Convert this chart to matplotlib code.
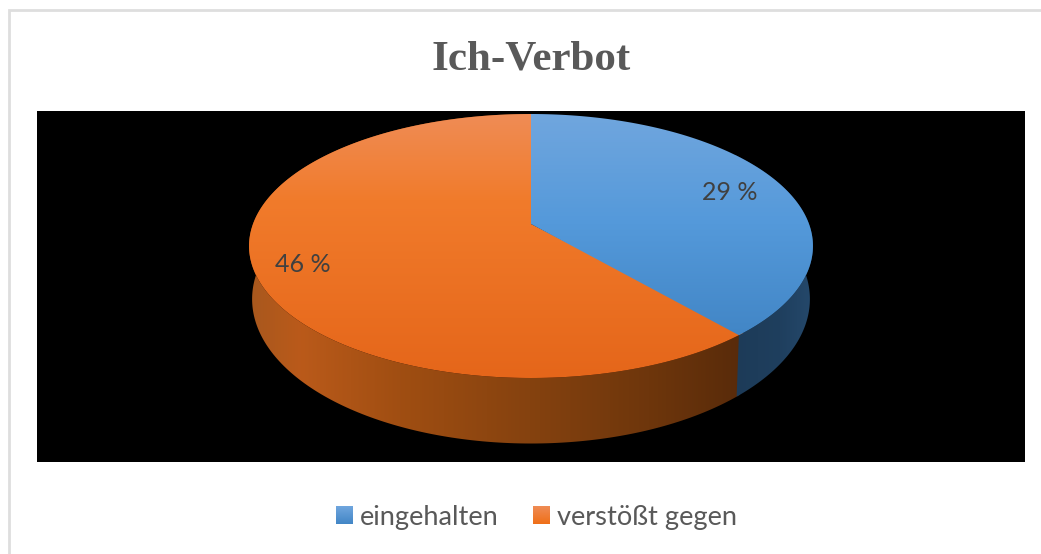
import numpy as np
import matplotlib
matplotlib.use("Agg")
import matplotlib.pyplot as plt
from matplotlib.colors import LinearSegmentedColormap as LSC
from matplotlib.patches import Patch, Polygon, Rectangle

categories = ["eingehalten", "verstößt gegen"]
values = [29, 46]
title = "Ich-Verbot"

W, H = 1041, 554
fig = plt.figure(figsize=(W / 100, H / 100), dpi=100, facecolor="white")
ax = fig.add_axes([0, 0, 1, 1])
ax.set_xlim(0, W)
ax.set_ylim(H, 0)
ax.axis("off")

# chart frame and plot background
ax.plot([9, 9, W], [H, 10, 10], color="#dedede", lw=2, solid_joinstyle="miter", zorder=1)
ax.add_patch(Rectangle((37, 111), 988, 351, fc="black", ec="none", zorder=1))

CX = 531
PERSP = 1 / 6


def top_pt(a):
    u, v = np.sin(a), np.cos(a)
    d = PERSP * v + 1
    return CX + 278 * u / d, (224 - 91 * v) / d


def bot_pt(a):
    u, v = np.sin(a), np.cos(a)
    d = PERSP * v + 1
    return CX + 275 * u / d, (275 - 94.6 * v) / d


def grad(poly_xy, stops, horizontal, zorder):
    """Fill a polygon with a linear gradient given as (position, colour) stops."""
    lo, hi = stops[0][0], stops[-1][0]
    cmap = LSC.from_list("g", [((p - lo) / (hi - lo), c) for p, c in stops])
    ramp = np.linspace(0, 1, 256)
    if horizontal:
        img, ext = ramp[None, :], (lo, hi, H, 0)
    else:
        img, ext = ramp[:, None], (0, W, hi, lo)
    im = ax.imshow(img, cmap=cmap, extent=ext, aspect="auto", origin="upper", zorder=zorder,
                   interpolation="bilinear")
    clip = Polygon(poly_xy, closed=True, transform=ax.transData, fc="none", ec="none")
    ax.add_patch(clip)
    im.set_clip_path(clip)
    return im


shares = np.array(values) / sum(values)
edges = np.concatenate([[0], np.cumsum(shares)]) * 2 * np.pi

top_stops = [
    [(114, "#70a6de"), (224, "#5499da"), (335, "#4286c6")],
    [(114, "#ef8c55"), (200, "#f17b2b"), (378, "#e5661a")],
]
side_stops = [
    [(735, "#1d3b58"), (780, "#1f3f5e"), (815, "#25496c")],
    [(249, "#a8581e"), (300, "#ba5a1a"), (400, "#a04e12"), (530, "#85420f"), (650, "#6e360c"), (740, "#592b0a")],
]
overlap = [0.0, 0.02]  # orange slides slightly under the blue slice

for i in (1, 0):
    a = np.linspace(edges[i] - overlap[i], edges[i + 1] + overlap[i], 240)
    tx, ty = top_pt(a)
    bx, by = bot_pt(a)
    side = np.r_[np.c_[tx, ty], np.c_[bx, by][::-1]]
    grad(side, side_stops[i], True, 2 + 0.1 * (1 - i))

for i in (1, 0):
    a = np.linspace(edges[i] - overlap[i], edges[i + 1] + overlap[i], 240)
    tx, ty = top_pt(a)
    c = np.array([CX, 224.0])
    face = np.r_[[c], np.c_[tx, ty]]
    grad(face, top_stops[i], False, 3 + 0.1 * (1 - i))

# data labels
label_xy = [(730, 192), (303, 265)]
for v, (x, y) in zip(values, label_xy):
    ax.text(x, y, f"{v} %", family="Lato", fontsize=18, color="#404040", ha="center", va="center", zorder=5)

ax.text(531.5, 59, title, family="Liberation Serif", weight="bold", fontsize=31, color="#595959",
        ha="center", va="center", zorder=5)

# legend
handles = [Patch(fc=c, ec="none", label=n) for c, n in zip(["#5499da", "#f17b2b"], categories)]
leg = ax.legend(handles=handles, loc="center", bbox_to_anchor=(536.5 / W, 1 - 517 / H), ncol=2, frameon=False,
                prop={"family": "Lato", "size": 19.6}, labelcolor="#595959",
                handlelength=0.62, handleheight=0.62, handletextpad=0.25, columnspacing=1.28)
fig.canvas.draw()
leg_stops = [[(0, "#70a6de"), (1, "#4286c6")], [(0, "#ef8c55"), (1, "#ef6f18")]]
for p, st in zip(leg.get_patches(), leg_stops):
    bb = p.get_window_extent().transformed(ax.transData.inverted())
    x0, x1, y0, y1 = bb.x0, bb.x1, min(bb.y0, bb.y1), max(bb.y0, bb.y1)
    cm = LSC.from_list("l", [(q, c) for q, c in st])
    ax.imshow(np.linspace(0, 1, 64)[:, None], cmap=cm, extent=(x0, x1, y1, y0), aspect="auto",
              origin="upper", zorder=6)
ax.set_xlim(0, W)
ax.set_ylim(H, 0)

fig.savefig("out.png", dpi=100, facecolor="white")
